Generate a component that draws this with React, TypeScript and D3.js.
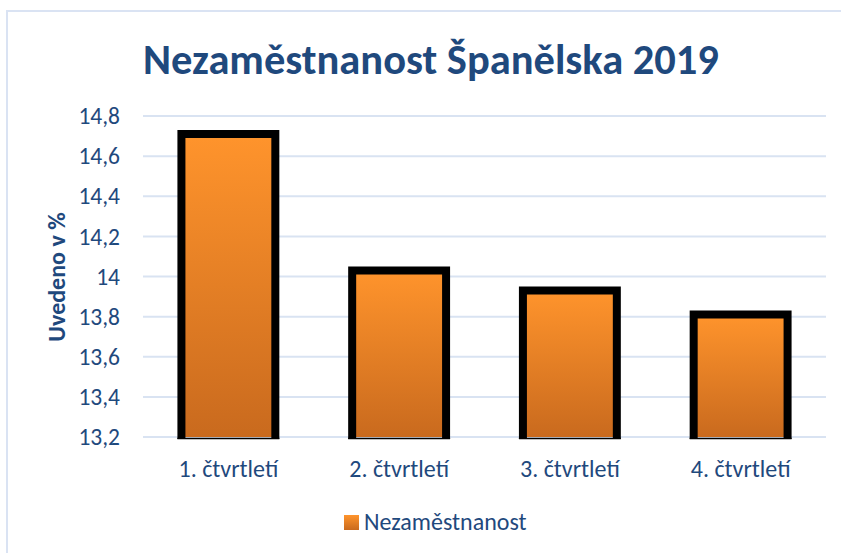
import React, { useEffect, useRef } from "react";
import * as d3 from "d3";

const categories = ["1. čtvrtletí", "2. čtvrtletí", "3. čtvrtletí", "4. čtvrtletí"];
const values = [14.71, 14.03, 13.93, 13.81];
const yTicks = [13.2, 13.4, 13.6, 13.8, 14, 14.2, 14.4, 14.6, 14.8];
const seriesName = "Nezaměstnanost";
const title = "Nezaměstnanost Španělska 2019";
const yLabel = "Uvedeno v %";

export default function App() {
  const ref = useRef<SVGSVGElement | null>(null);

  useEffect(() => {
    const width = 841, height = 553;
    const margin = { top: 116, right: 15, bottom: 116, left: 143 };
    const svg = d3.select(ref.current);
    svg.selectAll("*").remove();
    svg.attr("width", width).attr("height", height);

    const font = "Carlito, 'Liberation Sans', 'Noto Sans', sans-serif";
    const blue = "#1F497D";

    const defs = svg.append("defs");
    const grad = defs.append("linearGradient")
      .attr("id", "barGrad")
      .attr("x1", 0).attr("y1", 0).attr("x2", 0).attr("y2", 1);
    grad.append("stop").attr("offset", "0%").attr("stop-color", "#FF942C");
    grad.append("stop").attr("offset", "100%").attr("stop-color", "#C96A1E");

    // chart border
    svg.append("rect")
      .attr("x", 7).attr("y", 11)
      .attr("width", 860).attr("height", 560)
      .attr("fill", "#fff")
      .attr("stroke", "#DAE3F3")
      .attr("stroke-width", 2);

    const x = d3.scaleBand()
      .domain(categories)
      .range([margin.left, width - margin.right])
      .paddingInner(0.45)
      .paddingOuter(0.225);

    const y = d3.scaleLinear()
      .domain([13.2, 14.8])
      .range([437, margin.top]);

    // gridlines
    svg.append("g")
      .selectAll("line")
      .data(yTicks)
      .enter().append("line")
      .attr("x1", margin.left)
      .attr("x2", width - margin.right)
      .attr("y1", d => y(d))
      .attr("y2", d => y(d))
      .attr("stroke", "#D9E3F2")
      .attr("stroke-width", 2);

    // y tick labels
    svg.append("g")
      .selectAll("text")
      .data(yTicks)
      .enter().append("text")
      .attr("x", 120)
      .attr("y", d => y(d))
      .attr("dy", "0.35em")
      .attr("text-anchor", "end")
      .attr("font-family", font)
      .attr("font-size", 23.5)
      .attr("fill", blue)
      .text(d => String(d).replace(".", ","));

    // bars
    const bars = svg.append("g")
      .selectAll("g")
      .data(values)
      .enter().append("g");

    bars.append("rect")
      .attr("x", (d, i) => x(categories[i])!)
      .attr("y", d => y(d))
      .attr("width", x.bandwidth())
      .attr("height", d => y(13.2) - y(d))
      .attr("fill", "url(#barGrad)");

    bars.append("path")
      .attr("d", (d, i) => {
        const x0 = x(categories[i])!;
        const x1 = x0 + x.bandwidth();
        const yb = y(13.2) + 2;
        return `M${x0},${yb}V${y(d)}H${x1}V${yb}`;
      })
      .attr("fill", "none")
      .attr("stroke", "#000")
      .attr("stroke-width", 8)
      .attr("stroke-linejoin", "miter");

    bars.append("line")
      .attr("x1", (d, i) => x(categories[i])! - 4)
      .attr("x2", (d, i) => x(categories[i])! + x.bandwidth() + 4)
      .attr("y1", y(13.2) + 1.5)
      .attr("y2", y(13.2) + 1.5)
      .attr("stroke", "#000")
      .attr("stroke-width", 1.5);

    // x labels
    svg.append("g")
      .selectAll("text")
      .data(categories)
      .enter().append("text")
      .attr("x", d => x(d)! + x.bandwidth() / 2)
      .attr("y", 469)
      .attr("dy", "0.35em")
      .attr("text-anchor", "middle")
      .attr("font-family", font)
      .attr("font-size", 24)
      .attr("fill", blue)
      .text(d => d);

    // title
    svg.append("text")
      .attr("x", 431)
      .attr("y", 59)
      .attr("dy", "0.35em")
      .attr("text-anchor", "middle")
      .attr("font-family", font)
      .attr("font-weight", "bold")
      .attr("font-size", 42.5)
      .attr("fill", blue)
      .text(title);

    // y axis title
    svg.append("text")
      .attr("transform", "translate(57,277) rotate(-90)")
      .attr("dy", "0.35em")
      .attr("text-anchor", "middle")
      .attr("font-family", font)
      .attr("font-weight", "bold")
      .attr("font-size", 24)
      .attr("fill", blue)
      .text(yLabel);

    // legend
    svg.append("rect")
      .attr("x", 344).attr("y", 515)
      .attr("width", 15).attr("height", 15)
      .attr("fill", "url(#barGrad)");
    svg.append("text")
      .attr("x", 364)
      .attr("y", 522)
      .attr("dy", "0.35em")
      .attr("font-family", font)
      .attr("font-size", 24)
      .attr("fill", blue)
      .text(seriesName);
  }, []);

  return (
    <div style={{ position: "absolute", left: 0, top: 0, width: 841, height: 553, overflow: "hidden" }}>
      <svg ref={ref} style={{ display: "block" }} />
    </div>
  );
}
